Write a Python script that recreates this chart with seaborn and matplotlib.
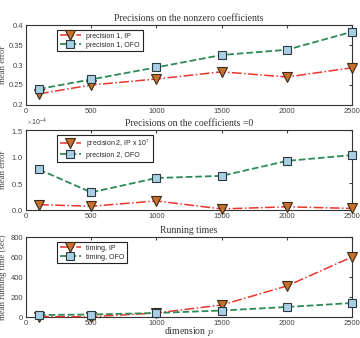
import numpy as np
import pandas as pd
import matplotlib
matplotlib.use("Agg")
import matplotlib.pyplot as plt
import seaborn as sns

# data
dims = [100, 500, 1000, 1500, 2000, 2500]
prec1_ip = [0.228, 0.250, 0.265, 0.283, 0.270, 0.293]
prec1_ofo = [0.240, 0.264, 0.294, 0.325, 0.338, 0.383]
prec2_ip = [0.10e-4, 0.07e-4, 0.17e-4, 0.02e-4, 0.06e-4, 0.03e-4]
prec2_ofo = [0.76e-4, 0.33e-4, 0.60e-4, 0.64e-4, 0.92e-4, 1.03e-4]
time_ip = [5, 3, 40, 120, 310, 600]
time_ofo = [20, 25, 40, 65, 100, 140]

sns.set_style("white")
plt.rcParams['font.family'] = ['Liberation Sans', 'DejaVu Sans']
plt.rcParams['mathtext.fontset'] = 'cm'

serif = ['Liberation Serif', 'DejaVu Serif']
red = '#e8362e'
green = '#2e8b57'
grey = '#444444'

fig = plt.figure(figsize=(3.6, 3.38), dpi=100)
W, H = 360, 338
boxes = [(25, 105), (130, 210), (237, 317)]
axes = []
for top, bot in boxes:
    ax = fig.add_axes([26 / W, 1 - bot / H, (352 - 26) / W, (bot - top) / H])
    axes.append(ax)

panels = [
    (prec1_ip, prec1_ofo, 'precision 1, IP', 'precision 1, OFO',
     'Precisions on the nonzero coefficients', 'mean error', (0.2, 0.4), np.arange(0.2, 0.401, 0.05)),
    (prec2_ip, prec2_ofo, 'precision 2, IP x 10$^7$', 'precision 2, OFO',
     'Precisions on the coefficients =0', 'mean error', (0, 1.5e-4), np.arange(0, 1.51e-4, 0.5e-4)),
    (time_ip, time_ofo, 'timing, IP', 'timing, OFO',
     'Running times', 'mean running time (sec)', (0, 800), np.arange(0, 801, 200)),
]

for ax, (ip, ofo, lab_ip, lab_ofo, title, ylab, ylim, yt) in zip(axes, panels):
    df = pd.DataFrame({'p': dims, 'ip': ip, 'ofo': ofo})
    sns.lineplot(data=df, x='p', y='ip', ax=ax, color=red, linestyle='-.', lw=1.1,
                 marker='v', markersize=7, markerfacecolor='#c8702a', markeredgecolor='#3a2a1a',
                 markeredgewidth=0.8, label=lab_ip, clip_on=False, zorder=3)
    sns.lineplot(data=df, x='p', y='ofo', ax=ax, color=green, linestyle='--', lw=1.3,
                 marker='s', markersize=5.5, markerfacecolor='#a9cfe4', markeredgecolor='#2a3a40',
                 markeredgewidth=0.8, label=lab_ofo, clip_on=False, zorder=4)
    ax.set_xlim(0, 2500)
    ax.set_xticks([0, 500, 1000, 1500, 2000, 2500])
    ax.set_ylim(*ylim)
    ax.set_yticks(yt)
    ax.set_title(title, fontsize=7, family=serif, color='#333333', pad=3)
    ax.set_ylabel(ylab, fontsize=6.3, family=serif, color=grey)
    ax.yaxis.set_label_coords(-0.058, 0.5)
    ax.set_xlabel('')
    ax.tick_params(direction='in', length=2.5, labelsize=5.5, top=True, right=True,
                   pad=2, colors=grey)
    for s in ax.spines.values():
        s.set_color('#333333')
        s.set_linewidth(0.8)
    leg = ax.legend(loc='upper left', bbox_to_anchor=(0.095, 0.94), fontsize=5,
                    frameon=True, fancybox=False, framealpha=1, borderpad=0.4,
                    handlelength=3, labelspacing=0.3, borderaxespad=0)
    leg.get_frame().set_edgecolor('#222222')
    leg.get_frame().set_linewidth(0.8)

axes[0].set_yticklabels(['0.2', '0.25', '0.3', '0.35', '0.4'])
axes[1].ticklabel_format(axis='y', style='sci', scilimits=(0, 0), useMathText=True)
axes[1].yaxis.get_offset_text().set_fontsize(5)
axes[1].set_yticks(np.arange(0, 1.51e-4, 0.5e-4))
axes[2].set_xlabel('dimension $p$', fontsize=7, family=serif, color='#333333')
axes[2].xaxis.set_label_coords(0.5, -0.1)

fig.savefig('out.png', dpi=100)
